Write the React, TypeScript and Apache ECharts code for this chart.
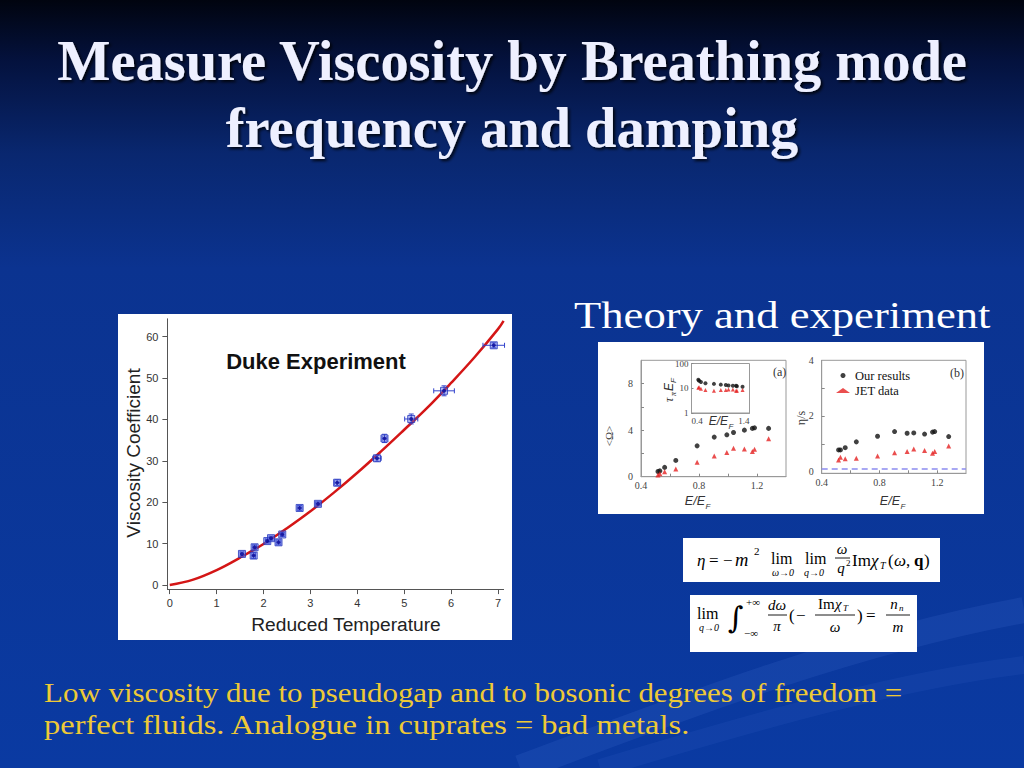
import React, { useEffect, useRef } from 'react';
import * as echarts from 'echarts';

// ---- Duke experiment (main chart) ----
const dukeTemp = [1.54, 1.79, 1.81, 2.08, 2.16, 2.32, 2.40, 2.77, 3.16, 3.57, 4.42, 4.58, 5.15, 5.85, 6.91];
const dukeEta = [7.5, 7.1, 9.1, 10.6, 11.3, 10.3, 12.2, 18.6, 19.6, 24.7, 30.6, 35.4, 40.1, 46.9, 57.9];
const dukeTempErr = [0.04, 0.04, 0.04, 0.04, 0.04, 0.05, 0.04, 0.05, 0.05, 0.06, 0.09, 0.05, 0.14, 0.22, 0.23];
const dukeEtaErr = [0.5, 0.7, 0.6, 0.5, 0.5, 0.6, 0.5, 0.6, 0.5, 0.7, 0.7, 1.0, 1.2, 1.2, 0.6];
const fitTemp = [0, 0.5, 1, 1.5, 2, 2.5, 3, 3.5, 4, 4.5, 5, 5.5, 6, 6.5, 7, 7.12];
const fitEta = [0, 1.3, 3.6, 6.6, 9.9, 13.7, 17.8, 22.3, 27.1, 32.2, 37.5, 42.9, 48.8, 55.0, 61.8, 63.8];
const dukeXTicks = [0, 1, 2, 3, 4, 5, 6, 7];
const dukeYTicks = [0, 10, 20, 30, 40, 50, 60];

// ---- Theory panels (a) and (b) ----
const energyRatio = [0.517, 0.530, 0.563, 0.640, 0.787, 0.905, 0.992, 1.038, 1.113, 1.168, 1.183, 1.280];
const omegaOurs = [0.45, 0.5, 0.8, 1.4, 2.65, 3.4, 3.6, 3.8, 4.0, 4.15, 4.2, 4.15];
const omegaJet = [0.15, 0.26, 0.43, 0.66, 1.24, 1.78, 2.07, 2.45, 2.39, 2.16, 2.36, 3.25];
const tauOurs = [22, 20, 18, 16, 15, 14, 13.5, 13, 12.5, 12.5, 12, 11.5];
const tauJet = [10.5, 11, 9.5, 8.5, 8, 8.5, 8.5, 9, 9, 8, 8, 8.5];
const etaSOurs = [0.78, 0.78, 0.86, 1.07, 1.27, 1.44, 1.38, 1.39, 1.35, 1.42, 1.44, 1.26];
const etaSJet = [0.42, 0.52, 0.46, 0.48, 0.56, 0.68, 0.72, 0.81, 0.76, 0.66, 0.72, 0.92];
const kssBound = 0.1;
const smallXLabels = [0.4, 0.8, 1.2];
const smallXTicks = [0.6, 0.8, 1.0, 1.2];
const omegaLabels = [0, 4, 8];
const omegaTicks = [2, 4, 6, 8];
const etaSLabels = [0, 2, 4];
const etaSTicks = [1, 2, 3];
const insetXLabels = [0.4, 1.4];

const zip = (a: number[], b: number[]) => a.map((v, i) => [v, b[i]]);

type TOpt = {
  size?: number; family?: string; weight?: string; italic?: boolean; fill?: string;
  align?: string; va?: string; rot?: number; sx?: number; sy?: number; z?: number; shadow?: boolean;
};
const txt = (x: number, y: number, text: string, o: TOpt = {}) => {
  const style: any = {
    text,
    fill: o.fill || '#000',
    fontSize: o.size || 14,
    fontFamily: o.family || 'Liberation Serif',
    fontWeight: o.weight || 'normal',
    fontStyle: o.italic ? 'italic' : 'normal',
    textAlign: o.align || 'left',
    textVerticalAlign: o.va || 'middle',
  };
  if (o.shadow) {
    style.textShadowColor = 'rgba(0,0,0,0.85)';
    style.textShadowBlur = 3;
    style.textShadowOffsetX = 2;
    style.textShadowOffsetY = 2;
  }
  return {
    type: 'text', x, y, rotation: o.rot || 0, scaleX: o.sx || 1, scaleY: o.sy || 1, z: o.z ?? 100, silent: true, style,
  };
};
const hline = (x1: number, x2: number, y: number) => ({
  type: 'line', z: 100, silent: true, shape: { x1, y1: y, x2, y2: y }, style: { stroke: '#000', lineWidth: 0.9 },
});

const EQ = 'Liberation Serif';

function buildOption(): any {
  const graphic: any[] = [
    // background
    {
      type: 'rect', z: -20, silent: true, shape: { x: 0, y: 0, width: 1024, height: 768 },
      style: {
        fill: {
          type: 'linear', x: 0, y: 0, x2: 0, y2: 1,
          colorStops: [
            { offset: 0, color: '#01040f' },
            { offset: 0.08, color: '#04123e' },
            { offset: 0.2, color: '#09276f' },
            { offset: 0.35, color: '#0b3390' },
            { offset: 1, color: '#0a3aa2' },
          ],
        },
      },
    },
    {
      type: 'bezierCurve', z: -19, silent: true,
      shape: { x1: 520, y1: 768, cpx1: 700, cpy1: 700, cpx2: 860, cpy2: 640, x2: 1024, y2: 610 },
      style: { stroke: 'rgba(120,160,255,0.10)', lineWidth: 26, fill: null },
    },
    {
      type: 'bezierCurve', z: -19, silent: true,
      shape: { x1: 600, y1: 768, cpx1: 760, cpy1: 720, cpx2: 900, cpy2: 680, x2: 1024, y2: 665 },
      style: { stroke: 'rgba(120,160,255,0.07)', lineWidth: 18, fill: null },
    },
    // white panels
    { type: 'rect', z: -5, silent: true, shape: { x: 118, y: 314, width: 394, height: 326 }, style: { fill: '#ffffff' } },
    { type: 'rect', z: -5, silent: true, shape: { x: 598, y: 342, width: 386, height: 172 }, style: { fill: '#ffffff' } },
    { type: 'rect', z: -5, silent: true, shape: { x: 683, y: 538, width: 257, height: 44 }, style: { fill: '#ffffff' } },
    { type: 'rect', z: -5, silent: true, shape: { x: 690, y: 595, width: 227, height: 57 }, style: { fill: '#ffffff' } },

    // titles
    txt(512, 61, 'Measure Viscosity by Breathing mode', { size: 56.4, weight: 'bold', fill: '#eef0ff', align: 'center', shadow: true }),
    txt(512, 128, 'frequency and damping', { size: 56.4, weight: 'bold', fill: '#eef0ff', align: 'center', shadow: true }),
    txt(574, 315, 'Theory and experiment', { size: 36, fill: '#ffffff', sx: 1.24, sy: 1.05 }),
    txt(44, 693, 'Low viscosity due to pseudogap and to bosonic degrees of freedom =', { size: 26, fill: '#eec936', sx: 1.19, sy: 1.03 }),
    txt(44, 725, 'perfect fluids. Analogue in cuprates = bad metals.', { size: 26, fill: '#eec936', sx: 1.25, sy: 1.03 }),

    // main chart texts
    txt(316, 361, 'Duke Experiment', { size: 22, weight: 'bold', family: 'Liberation Sans', fill: '#111', align: 'center' }),
    txt(133, 453, 'Viscosity Coefficient', { size: 19, family: 'Liberation Sans', fill: '#222', align: 'center', rot: Math.PI / 2 }),
    txt(346, 624, 'Reduced Temperature', { size: 19.2, family: 'Liberation Sans', fill: '#222', align: 'center' }),

    // panel (a)
    txt(773, 372, '(a)', { size: 12, fill: '#333' }),
    txt(609, 436, '<Ω>', { size: 11, fill: '#333', align: 'center', rot: Math.PI / 2 }),
    txt(705, 501, 'E/E', { size: 12.5, family: 'Liberation Sans', italic: true, fill: '#333', align: 'right' }),
    txt(705.5, 506, 'F', { size: 8, family: 'Liberation Sans', italic: true, fill: '#333' }),
    txt(728, 421, 'E/E', { size: 12, family: 'Liberation Sans', italic: true, fill: '#333', align: 'right' }),
    txt(728.5, 426, 'F', { size: 8, family: 'Liberation Sans', italic: true, fill: '#333' }),
    {
      type: 'group', x: 669, y: 388, rotation: Math.PI / 2, z: 100, silent: true,
      children: [
        txt(-14, 0, 'τ', { size: 12, italic: true, fill: '#333' }),
        txt(-8, 4, 'π', { size: 8, italic: true, fill: '#333' }),
        txt(-3, 0, 'E', { size: 12, italic: true, family: 'Liberation Sans', fill: '#333' }),
        txt(5, 4, 'F', { size: 8, italic: true, family: 'Liberation Sans', fill: '#333' }),
      ],
    },
    // panel (b)
    txt(950, 373, '(b)', { size: 12, fill: '#333' }),
    txt(801, 418, 'η/s', { size: 12, fill: '#333', align: 'center', rot: Math.PI / 2 }),
    txt(900, 501, 'E/E', { size: 12.5, family: 'Liberation Sans', italic: true, fill: '#333', align: 'right' }),
    txt(900.5, 506, 'F', { size: 8, family: 'Liberation Sans', italic: true, fill: '#333' }),

    // equation 1
    txt(697, 560, 'η', { size: 17, family: EQ, italic: true }),
    txt(709, 560, '=', { size: 17, family: EQ }),
    txt(723, 560, '−', { size: 17, family: EQ }),
    txt(735, 560, 'm', { size: 18.5, family: EQ, italic: true }),
    txt(754, 551, '2', { size: 11, family: EQ }),
    txt(771, 558, 'lim', { size: 16, family: EQ }),
    txt(783, 572, 'ω→0', { size: 10, family: EQ, italic: true, align: 'center' }),
    txt(805, 558, 'lim', { size: 16, family: EQ }),
    txt(814, 572, 'q→0', { size: 10, family: EQ, italic: true, align: 'center' }),
    txt(842, 549, 'ω', { size: 15, family: EQ, italic: true, align: 'center' }),
    hline(835, 850, 558),
    txt(841, 568, 'q', { size: 15, family: EQ, italic: true, align: 'center' }),
    txt(846, 563, '2', { size: 9, family: EQ }),
    txt(852, 560, 'Im', { size: 17, family: EQ }),
    txt(871, 560, 'χ', { size: 17, family: EQ, italic: true }),
    txt(880, 565, 'T', { size: 10, family: EQ, italic: true }),
    txt(888, 560, '(', { size: 17, family: EQ }),
    txt(894, 560, 'ω', { size: 17, family: EQ, italic: true }),
    txt(906, 560, ',', { size: 17, family: EQ }),
    txt(914, 560, 'q', { size: 17, family: EQ, weight: 'bold' }),
    txt(924, 560, ')', { size: 17, family: EQ }),

    // equation 2
    txt(697, 613, 'lim', { size: 16, family: EQ }),
    txt(709, 627, 'q→0', { size: 10, family: EQ, italic: true, align: 'center' }),
    txt(728, 617, '∫', { size: 30, family: 'DejaVu Serif' }),
    txt(746, 602, '+∞', { size: 11, family: EQ }),
    txt(744, 633, '−∞', { size: 11, family: EQ }),
    txt(777, 605, 'dω', { size: 15, family: EQ, italic: true, align: 'center' }),
    hline(768, 787, 615),
    txt(777, 626, 'π', { size: 15, family: EQ, italic: true, align: 'center' }),
    txt(789, 615, '(', { size: 17, family: EQ }),
    txt(796, 615, '−', { size: 17, family: EQ }),
    txt(818, 604, 'Im', { size: 15, family: EQ }),
    txt(835, 604, 'χ', { size: 15, family: EQ, italic: true }),
    txt(843, 608, 'T', { size: 9, family: EQ, italic: true }),
    hline(815, 855, 615),
    txt(835, 627, 'ω', { size: 15, family: EQ, italic: true, align: 'center' }),
    txt(857, 615, ')', { size: 17, family: EQ }),
    txt(866, 615, '=', { size: 17, family: EQ }),
    txt(894, 604, 'n', { size: 15, family: EQ, italic: true, align: 'center' }),
    txt(899, 608, 'n', { size: 9, family: EQ, italic: true }),
    hline(886, 910, 615),
    txt(898, 627, 'm', { size: 15, family: EQ, italic: true, align: 'center' }),
  ];

  const smallAxisLabel = { fontFamily: 'Liberation Serif', fontSize: 10, color: '#444' };
  const smallLine = { show: true, onZero: false, lineStyle: { color: '#999', width: 1 } };
  const mainLine = { show: true, onZero: false, lineStyle: { color: '#555', width: 1 } };
  const mainLabel = { fontFamily: 'Liberation Sans', fontSize: 11, color: '#333' };

  const errData = dukeTemp.map((t, i) => [t, dukeEta[i], dukeTempErr[i], dukeEtaErr[i]]);

  return {
    animation: false,
    backgroundColor: '#0a3596',
    graphic,
    legend: {
      left: 831, top: 364, orient: 'vertical', itemWidth: 14, itemHeight: 5, itemGap: 2,
      selectedMode: false,
      data: [{ name: 'Our results', icon: 'circle' }, { name: 'JET data', icon: 'triangle' }],
      textStyle: { fontFamily: 'Liberation Serif', fontSize: 12.5, color: '#111' },
    },
    grid: [
      { left: 167.4, top: 318.8, width: 336.2, height: 270.3 },
      { left: 641, top: 360.3, width: 145, height: 116.4, show: true, borderColor: '#999', borderWidth: 1, backgroundColor: 'transparent' },
      { left: 691.5, top: 363.5, width: 58, height: 49.5, show: true, borderColor: '#999', borderWidth: 1, backgroundColor: '#fff' },
      { left: 821.7, top: 360.3, width: 144.3, height: 113, show: true, borderColor: '#999', borderWidth: 1, backgroundColor: 'transparent' },
    ],
    xAxis: [
      {
        gridIndex: 0, type: 'value', min: -0.05, max: 7.12, axisLine: mainLine,
        axisTick: { show: true, inside: false, length: 5, customValues: dukeXTicks, lineStyle: { color: '#555' } },
        axisLabel: { ...mainLabel, margin: 8, customValues: dukeXTicks },
        splitLine: { show: false },
      },
      {
        gridIndex: 1, type: 'value', min: 0.4, max: 1.4, axisLine: smallLine,
        axisTick: { show: true, inside: true, length: 3, customValues: smallXTicks, lineStyle: { color: '#888' } },
        axisLabel: { ...smallAxisLabel, margin: 4, customValues: smallXLabels },
        splitLine: { show: false },
      },
      {
        gridIndex: 2, type: 'value', min: 0.4, max: 1.4, axisLine: smallLine,
        axisTick: { show: false },
        axisLabel: { ...smallAxisLabel, fontSize: 9, margin: 3, customValues: insetXLabels, alignMinLabel: 'left', alignMaxLabel: 'right' },
        splitLine: { show: false },
      },
      {
        gridIndex: 3, type: 'value', min: 0.4, max: 1.4, axisLine: smallLine,
        axisTick: { show: true, inside: true, length: 3, customValues: smallXTicks, lineStyle: { color: '#888' } },
        axisLabel: { ...smallAxisLabel, margin: 4, customValues: smallXLabels },
        splitLine: { show: false },
      },
    ],
    yAxis: [
      {
        gridIndex: 0, type: 'value', min: -1, max: 64.3, axisLine: mainLine,
        axisTick: { show: true, inside: false, length: 5, customValues: dukeYTicks, lineStyle: { color: '#555' } },
        axisLabel: { ...mainLabel, margin: 9, customValues: dukeYTicks },
        splitLine: { show: false },
      },
      {
        gridIndex: 1, type: 'value', min: 0, max: 10, axisLine: smallLine,
        axisTick: { show: true, inside: true, length: 3, customValues: omegaTicks, lineStyle: { color: '#888' } },
        axisLabel: { ...smallAxisLabel, margin: 8, customValues: omegaLabels },
        splitLine: { show: false },
      },
      {
        gridIndex: 2, type: 'log', logBase: 10, min: 1, max: 100, axisLine: smallLine,
        axisTick: { show: true, inside: true, length: 2, lineStyle: { color: '#888' } },
        axisLabel: { ...smallAxisLabel, fontSize: 9, margin: 3 },
        splitLine: { show: false },
      },
      {
        gridIndex: 3, type: 'value', min: -0.06, max: 4, axisLine: smallLine,
        axisTick: { show: true, inside: true, length: 3, customValues: etaSTicks, lineStyle: { color: '#888' } },
        axisLabel: { ...smallAxisLabel, margin: 8, customValues: etaSLabels },
        splitLine: { show: false },
      },
    ],
    series: [
      {
        name: 'fit', type: 'line', xAxisIndex: 0, yAxisIndex: 0, data: zip(fitTemp, fitEta),
        smooth: 0.4, showSymbol: false, silent: true, z: 3,
        lineStyle: { color: '#d41616', width: 2.5 },
      },
      {
        name: 'errors', type: 'custom', xAxisIndex: 0, yAxisIndex: 0, data: errData, z: 4, silent: true,
        encode: { x: 0, y: 1 },
        renderItem: (params: any, api: any) => {
          const x = api.value(0), y = api.value(1), xe = api.value(2), ye = api.value(3);
          const l = api.coord([x - xe, y]), r = api.coord([x + xe, y]);
          const b = api.coord([x, y - ye]), t = api.coord([x, y + ye]);
          const c = 2.5;
          const style = { stroke: '#3344cc', lineWidth: 1, fill: null };
          const ln = (x1: number, y1: number, x2: number, y2: number) => ({ type: 'line', shape: { x1, y1, x2, y2 }, style });
          return {
            type: 'group',
            children: [
              ln(l[0], l[1], r[0], r[1]),
              ln(l[0], l[1] - c, l[0], l[1] + c),
              ln(r[0], r[1] - c, r[0], r[1] + c),
              ln(b[0], b[1], t[0], t[1]),
              ln(b[0] - c, b[1], b[0] + c, b[1]),
              ln(t[0] - c, t[1], t[0] + c, t[1]),
            ],
          };
        },
      },
      {
        name: 'Duke box', type: 'scatter', xAxisIndex: 0, yAxisIndex: 0, data: zip(dukeTemp, dukeEta),
        symbol: 'rect', symbolSize: 7, z: 5, silent: true,
        itemStyle: { color: 'rgba(90,110,230,0.55)', borderColor: '#2233bb', borderWidth: 1 },
      },
      {
        name: 'Duke', type: 'scatter', xAxisIndex: 0, yAxisIndex: 0, data: zip(dukeTemp, dukeEta),
        symbol: 'circle', symbolSize: 4, z: 6, silent: true, itemStyle: { color: '#0a0a96' },
      },
      {
        name: 'Our results', type: 'scatter', xAxisIndex: 1, yAxisIndex: 1, data: zip(energyRatio, omegaOurs),
        symbol: 'circle', symbolSize: 5, silent: true, itemStyle: { color: '#111' },
      },
      {
        name: 'JET data', type: 'scatter', xAxisIndex: 1, yAxisIndex: 1, data: zip(energyRatio, omegaJet),
        symbol: 'triangle', symbolSize: 5, silent: true, itemStyle: { color: '#e52222' },
      },
      {
        name: 'Our results', type: 'scatter', xAxisIndex: 2, yAxisIndex: 2, data: zip(energyRatio, tauOurs),
        symbol: 'circle', symbolSize: 4, silent: true, itemStyle: { color: '#111' },
      },
      {
        name: 'JET data', type: 'scatter', xAxisIndex: 2, yAxisIndex: 2, data: zip(energyRatio, tauJet),
        symbol: 'triangle', symbolSize: 4, silent: true, itemStyle: { color: '#e52222' },
      },
      {
        name: 'Our results', type: 'scatter', xAxisIndex: 3, yAxisIndex: 3, data: zip(energyRatio, etaSOurs),
        symbol: 'circle', symbolSize: 5, silent: true, itemStyle: { color: '#111' },
      },
      {
        name: 'JET data', type: 'scatter', xAxisIndex: 3, yAxisIndex: 3, data: zip(energyRatio, etaSJet),
        symbol: 'triangle', symbolSize: 5, silent: true, itemStyle: { color: '#e52222' },
        markLine: {
          silent: true, symbol: 'none', label: { show: false },
          lineStyle: { color: '#8c8cf0', type: [6, 4], width: 1.5 },
          data: [{ yAxis: kssBound }],
        },
      },
    ],
  };
}

export default function App() {
  const ref = useRef<HTMLDivElement>(null);
  useEffect(() => {
    if (!ref.current) return;
    const chart = echarts.init(ref.current, null, { renderer: 'svg' });
    chart.setOption(buildOption());
    return () => chart.dispose();
  }, []);
  return <div ref={ref} style={{ position: 'fixed', left: 0, top: 0, width: 1024, height: 768 }} />;
}
